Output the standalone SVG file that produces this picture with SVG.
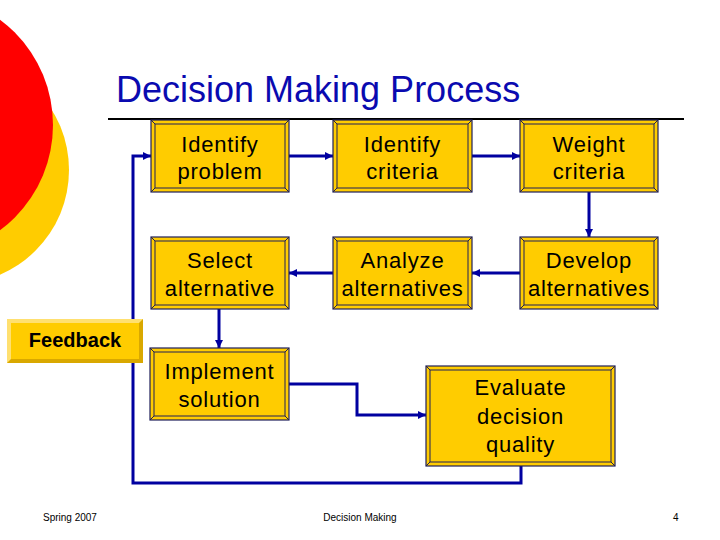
<svg xmlns="http://www.w3.org/2000/svg" width="720" height="540" viewBox="0 0 720 540">
<style>
.box{fill:#FFCC00;stroke:#1E1E5A;stroke-width:1.2}
.bev{fill:none;stroke:#1E1E5A;stroke-width:1}
.lbl{font-family:"Liberation Sans",Arial,sans-serif;font-size:22px;letter-spacing:0.8px;fill:#000;text-anchor:middle}
.conn{fill:none;stroke:#0000A0;stroke-width:3}
.foot{font-family:"Liberation Sans",Arial,sans-serif;font-size:10px;fill:#000}
</style>
<defs>
<marker id="arr" markerUnits="userSpaceOnUse" markerWidth="8" markerHeight="8" refX="8" refY="4" orient="auto">
<path d="M0,0 L8,4 L0,8 z" fill="#0000A0"/>
</marker>
</defs>
<rect width="720" height="540" fill="#fff"/>
<circle cx="-45" cy="170" r="114" fill="#FFCC00"/>
<circle cx="-78" cy="125" r="131" fill="#FF0000"/>
<text x="116" y="102" font-family="Liberation Sans, Arial, sans-serif" font-size="36" fill="#0A0AB0">Decision Making Process</text>
<line x1="108" y1="119" x2="684" y2="119" stroke="#000" stroke-width="2"/>
<g id="connectors">
<path class="conn" d="M521,466 V483 H133 V156 H151" marker-end="url(#arr)"/>
<path class="conn" d="M289,156 H333" marker-end="url(#arr)"/>
<path class="conn" d="M472,156 H520" marker-end="url(#arr)"/>
<path class="conn" d="M589,192 V237" marker-end="url(#arr)"/>
<path class="conn" d="M520,273 H472" marker-end="url(#arr)"/>
<path class="conn" d="M333,273 H289" marker-end="url(#arr)"/>
<path class="conn" d="M219,309 V348" marker-end="url(#arr)"/>
<path class="conn" d="M289,384 H357 V415 H426" marker-end="url(#arr)"/>
</g>
<g id="identify-problem">
<rect class="box" x="151" y="120" width="138" height="72"/>
<rect class="bev" x="155" y="124" width="130" height="64"/>
<path class="bev" d="M151,120 L155,124 M289,120 L285,124 M151,192 L155,188 M289,192 L285,188"/>
<text class="lbl" x="220" y="151.5">Identify</text>
<text class="lbl" x="220" y="178.5">problem</text>
</g>
<g id="identify-criteria">
<rect class="box" x="333" y="120" width="139" height="72"/>
<rect class="bev" x="337" y="124" width="131" height="64"/>
<path class="bev" d="M333,120 L337,124 M472,120 L468,124 M333,192 L337,188 M472,192 L468,188"/>
<text class="lbl" x="402.5" y="151.5">Identify</text>
<text class="lbl" x="402.5" y="178.5">criteria</text>
</g>
<g id="weight-criteria">
<rect class="box" x="520" y="120" width="138" height="72"/>
<rect class="bev" x="524" y="124" width="130" height="64"/>
<path class="bev" d="M520,120 L524,124 M658,120 L654,124 M520,192 L524,188 M658,192 L654,188"/>
<text class="lbl" x="589" y="151.5">Weight</text>
<text class="lbl" x="589" y="178.5">criteria</text>
</g>
<g id="select-alternative">
<rect class="box" x="151" y="237" width="138" height="72"/>
<rect class="bev" x="155" y="241" width="130" height="64"/>
<path class="bev" d="M151,237 L155,241 M289,237 L285,241 M151,309 L155,305 M289,309 L285,305"/>
<text class="lbl" x="220" y="268">Select</text>
<text class="lbl" x="220" y="295.5">alternative</text>
</g>
<g id="analyze-alternatives">
<rect class="box" x="333" y="237" width="139" height="72"/>
<rect class="bev" x="337" y="241" width="131" height="64"/>
<path class="bev" d="M333,237 L337,241 M472,237 L468,241 M333,309 L337,305 M472,309 L468,305"/>
<text class="lbl" x="402.5" y="268">Analyze</text>
<text class="lbl" x="402.5" y="295.5">alternatives</text>
</g>
<g id="develop-alternatives">
<rect class="box" x="520" y="237" width="138" height="72"/>
<rect class="bev" x="524" y="241" width="130" height="64"/>
<path class="bev" d="M520,237 L524,241 M658,237 L654,241 M520,309 L524,305 M658,309 L654,305"/>
<text class="lbl" x="589" y="268">Develop</text>
<text class="lbl" x="589" y="295.5">alternatives</text>
</g>
<g id="implement-solution">
<rect class="box" x="150" y="348" width="139" height="72"/>
<rect class="bev" x="154" y="352" width="131" height="64"/>
<path class="bev" d="M150,348 L154,352 M289,348 L285,352 M150,420 L154,416 M289,420 L285,416"/>
<text class="lbl" x="219.5" y="379">Implement</text>
<text class="lbl" x="219.5" y="406.5">solution</text>
</g>
<g id="evaluate-decision-quality">
<rect class="box" x="426" y="366" width="189" height="100"/>
<rect class="bev" x="430" y="370" width="181" height="92"/>
<path class="bev" d="M426,366 L430,370 M615,366 L611,370 M426,466 L430,462 M615,466 L611,462"/>
<text class="lbl" x="520.5" y="395">Evaluate</text>
<text class="lbl" x="520.5" y="423.5">decision</text>
<text class="lbl" x="520.5" y="452">quality</text>
</g>
<g id="feedback">
<rect x="7" y="319" width="136" height="44" fill="#D9A800"/>
<polygon points="7,319 143,319 139,323 11,323 11,359 7,363" fill="#FFE070"/>
<rect x="11" y="323" width="128" height="36" fill="#FFCC00"/>
<text x="75" y="347" font-family="Liberation Sans, Arial, sans-serif" font-size="20" font-weight="bold" text-anchor="middle" fill="#000">Feedback</text>
</g>
<text class="foot" x="43" y="521">Spring 2007</text>
<text class="foot" x="360" y="521" text-anchor="middle">Decision Making</text>
<text class="foot" x="673" y="521">4</text>
</svg>
